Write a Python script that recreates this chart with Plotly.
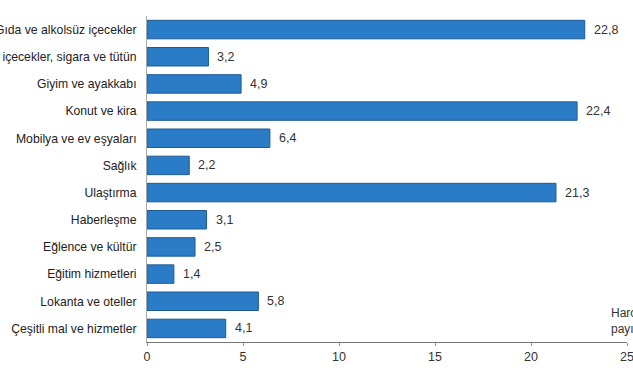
import plotly.graph_objects as go

categories = [
    "Gıda ve alkolsüz içecekler",
    "Alkollü içecekler, sigara ve tütün",
    "Giyim ve ayakkabı",
    "Konut ve kira",
    "Mobilya ve ev eşyaları",
    "Sağlık",
    "Ulaştırma",
    "Haberleşme",
    "Eğlence ve kültür",
    "Eğitim hizmetleri",
    "Lokanta ve oteller",
    "Çeşitli mal ve hizmetler",
]
values = [22.8, 3.2, 4.9, 22.4, 6.4, 2.2, 21.3, 3.1, 2.5, 1.4, 5.8, 4.1]
value_labels = [f"{v:.1f}".replace(".", ",") for v in values]
x_ticks = [0, 5, 10, 15, 20, 25]

FONT = "Liberation Sans, Arial, sans-serif"

fig = go.Figure()
fig.add_trace(go.Bar(
    y=categories,
    x=values,
    orientation="h",
    marker=dict(color="#2b7cc6", line=dict(color="#1d5a94", width=1)),
    width=0.68,
    hoverinfo="x+y",
))

for cat, v, lab in zip(categories, values, value_labels):
    fig.add_annotation(
        x=v, y=cat, xref="x", yref="y",
        xanchor="left", yanchor="middle", xshift=7,
        text=lab, showarrow=False,
        font=dict(family=FONT, size=12.5, color="#333333"),
    )

fig.add_annotation(
    x=0.962, y=0.012, xref="paper", yref="paper",
    xanchor="left", yanchor="bottom", align="left",
    text="Harcama<br>payı (%)", showarrow=False,
    font=dict(family=FONT, size=12, color="#333333"),
)

fig.update_layout(
    template="none",
    width=633, height=375,
    margin=dict(l=147, r=6, t=16, b=33),
    paper_bgcolor="white", plot_bgcolor="white",
    showlegend=False,
    font=dict(family=FONT, size=12, color="#222222"),
    xaxis=dict(
        range=[0, 25], tickvals=x_ticks, ticktext=[str(t) for t in x_ticks],
        showgrid=False, zeroline=False, showline=True, linecolor="#777777", linewidth=1,
        ticks="outside", ticklen=3, tickcolor="#999999", automargin=False,
        ticklabeloverflow="allow",
        tickfont=dict(family=FONT, size=12.5, color="#333333"),
    ),
    yaxis=dict(
        autorange="reversed", showgrid=False, zeroline=False, showline=True,
        linecolor="#aaaaaa", linewidth=1, ticks="", automargin=False,
        ticklabelstandoff=7,
        tickfont=dict(family=FONT, size=12.2, color="#222222"),
    ),
)

fig.write_html(
    "out.html",
    config={"displayModeBar": False},
    post_script="document.body.style.margin='0';",
)
